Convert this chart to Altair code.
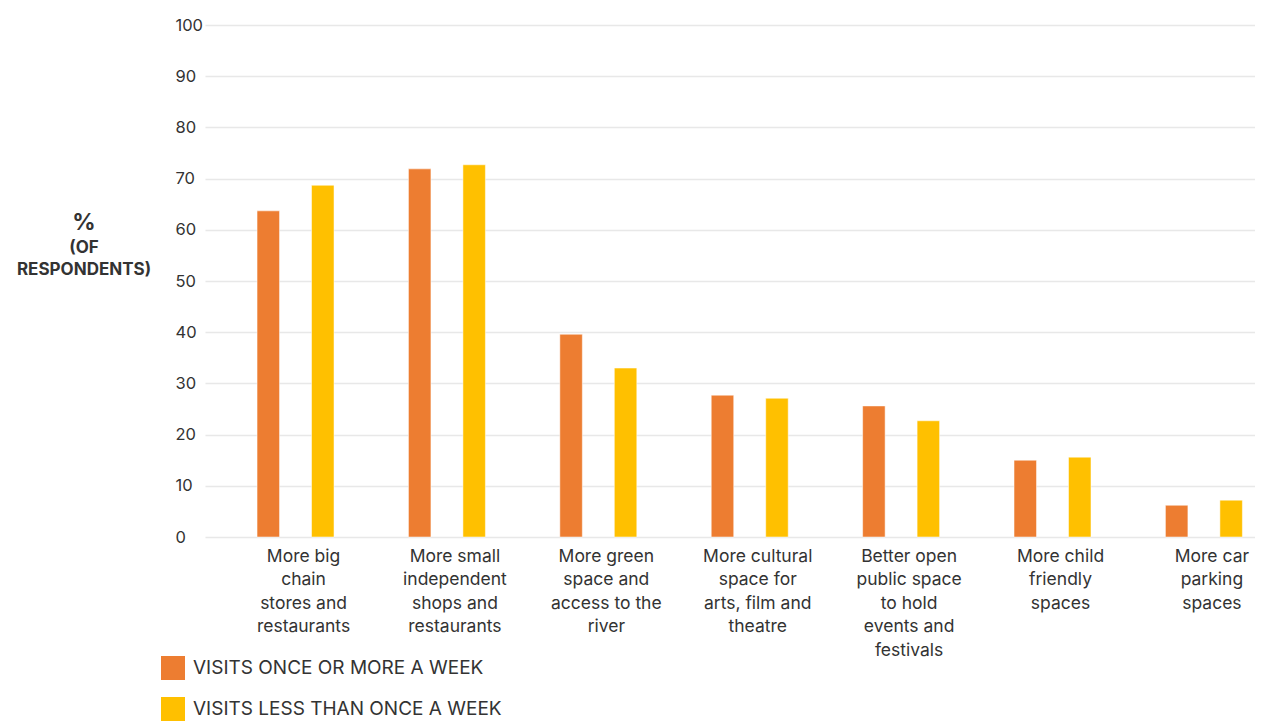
import altair as alt
import pandas as pd

categories = [
    "More big|chain|stores and|restaurants",
    "More small|independent|shops and|restaurants",
    "More green|space and|access to the|river",
    "More cultural|space for|arts, film and|theatre",
    "Better open|public space|to hold|events and|festivals",
    "More child|friendly|spaces",
    "More car|parking|spaces",
]
series = ["VISITS ONCE OR MORE A WEEK", "VISITS LESS THAN ONCE A WEEK"]
weekly = [63.7, 71.9, 39.6, 27.7, 25.6, 15.0, 6.2]
less_weekly = [68.7, 72.7, 33.0, 27.1, 22.7, 15.6, 7.2]
colors = ["#ED7D31", "#FFC000"]
y_ticks = [0, 10, 20, 30, 40, 50, 60, 70, 80, 90, 100]

rows = []
for c, a, b in zip(categories, weekly, less_weekly):
    rows.append({"category": c, "series": series[0], "value": a})
    rows.append({"category": c, "series": series[1], "value": b})
df = pd.DataFrame(rows)

FONT = "Inter"
W, H = 1050, 512

bars = alt.Chart(df).mark_bar(stroke="#ffffff", strokeOpacity=0.5, strokeWidth=1).encode(
    x=alt.X(
        "category:N",
        sort=categories,
        scale=alt.Scale(range=[0, 1074.6], paddingInner=0, paddingOuter=0.049, align=1),
        axis=alt.Axis(
            title=None,
            labelAngle=0,
            domain=False,
            ticks=False,
            grid=False,
            labelExpr="split(datum.label, '|')",
            labelFont=FONT,
            labelFontSize=17.5,
            labelLineHeight=23.5,
            labelColor="#333333",
            labelPadding=10,
            labelBaseline="top",
            labelOffset=8,
            labelLimit=300,
        ),
    ),
    xOffset=alt.XOffset(
        "series:N",
        sort=series,
        scale=alt.Scale(paddingInner=0.587, paddingOuter=0.683),
    ),
    y=alt.Y(
        "value:Q",
        scale=alt.Scale(domain=[0, 100], nice=False),
        axis=alt.Axis(
            title=None,
            values=y_ticks,
            domain=False,
            ticks=False,
            tickSize=0,
            grid=True,
            gridColor="#e8e8e8",
            gridWidth=1.5,
            labelFont=FONT,
            labelFontSize=16.5,
            labelColor="#333333",
            labelAlign="left",
            labelPadding=30,
            labelBaseline="middle",
        ),
    ),
    color=alt.Color(
        "series:N",
        sort=series,
        scale=alt.Scale(domain=series, range=colors),
        legend=alt.Legend(
            title=None,
            orient="none",
            legendX=-44,
            legendY=631,
            direction="vertical",
            symbolType="square",
            symbolSize=576,
            symbolStrokeWidth=0,
            symbolOpacity=1,
            labelFont=FONT,
            labelFontSize=19,
            labelColor="#333333",
            labelOffset=8,
            rowPadding=17,
            padding=0,
            labelLimit=500,
        ),
    ),
)

title_pct = alt.Chart(pd.DataFrame({"t": ["%"]})).mark_text(
    text="%", font=FONT, fontSize=23, fontWeight="bold", color="#333333",
    align="center", baseline="middle",
).encode(x=alt.value(-121), y=alt.value(198))

title_of = alt.Chart(pd.DataFrame({"t": ["(OF"]})).mark_text(
    text="(OF", font=FONT, fontSize=17, fontWeight="bold", color="#333333",
    align="center", baseline="middle",
).encode(x=alt.value(-121), y=alt.value(223))

title_resp = alt.Chart(pd.DataFrame({"t": ["RESPONDENTS)"]})).mark_text(
    text="RESPONDENTS)", font=FONT, fontSize=17, fontWeight="bold", color="#333333",
    align="center", baseline="middle",
).encode(x=alt.value(-121), y=alt.value(245))

chart = alt.layer(bars, title_pct, title_of, title_resp).properties(
    width=W,
    height=H,
    autosize=alt.AutoSizeParams(type="none"),
    padding={"left": 197, "top": 17, "right": 0, "bottom": 184},
).configure_view(stroke=None)

chart.save("out.html", embed_options={"renderer": "svg", "actions": False})
